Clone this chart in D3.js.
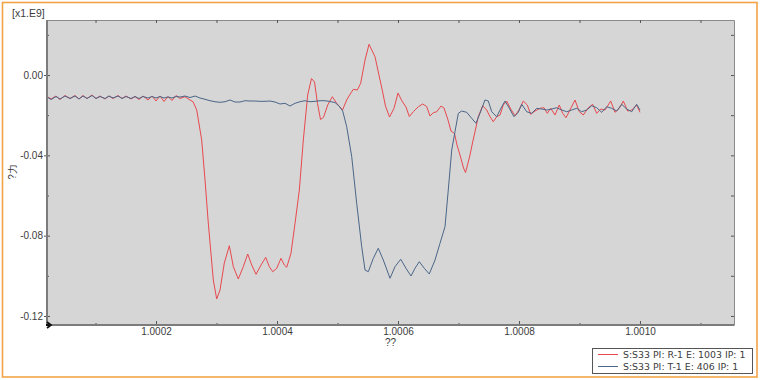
<!DOCTYPE html>
<html><head><meta charset="utf-8">
<script src="https://cdn.jsdelivr.net/npm/d3@7"></script>
<style>html,body{margin:0;padding:0;background:#fff;}svg{display:block;}</style>
</head><body>
<script>
// ---- data (values in x1.E9) ----
const redX = [1.0000198,1.0000265,1.0000347,1.0000413,1.0000496,1.0000579,1.0000661,1.0000727,1.0000793,1.0000860,
1.0000942,1.0001008,1.0001074,1.0001157,1.0001223,1.0001289,1.0001372,1.0001438,1.0001504,1.0001587,
1.0001653,1.0001719,1.0001785,1.0001868,1.0001934,1.0002000,1.0002066,1.0002132,1.0002198,1.0002264,
1.0002331,1.0002397,1.0002479,1.0002562,1.0002612,1.0002673,1.0002755,1.0002810,1.0002864,1.0002947,
1.0003003,1.0003058,1.0003129,1.0003212,1.0003278,1.0003360,1.0003443,1.0003516,1.0003582,1.0003653,
1.0003736,1.0003813,1.0003873,1.0003929,1.0003995,1.0004066,1.0004121,1.0004160,1.0004231,1.0004298,
1.0004369,1.0004435,1.0004507,1.0004570,1.0004620,1.0004669,1.0004719,1.0004769,1.0004838,1.0004914,
1.0004987,1.0005083,1.0005152,1.0005190,1.0005261,1.0005327,1.0005383,1.0005455,1.0005521,1.0005620,
1.0005703,1.0005736,1.0005793,1.0005860,1.0005934,1.0006000,1.0006066,1.0006132,1.0006187,1.0006253,
1.0006336,1.0006408,1.0006474,1.0006529,1.0006583,1.0006640,1.0006711,1.0006760,1.0006822,1.0006876,
1.0006934,1.0006975,1.0007025,1.0007083,1.0007116,1.0007157,1.0007190,1.0007231,1.0007273,1.0007327,
1.0007400,1.0007466,1.0007521,1.0007575,1.0007631,1.0007686,1.0007741,1.0007797,1.0007863,1.0007934,
1.0008000,1.0008071,1.0008137,1.0008193,1.0008265,1.0008347,1.0008413,1.0008468,1.0008524,1.0008595,
1.0008666,1.0008722,1.0008777,1.0008843,1.0008926,1.0008997,1.0009063,1.0009146,1.0009218,1.0009284,
1.0009351,1.0009422,1.0009516,1.0009587,1.0009658,1.0009724,1.0009797,1.0009863,1.0009945,1.0010000];
const redY = [-0.01071,-0.01195,-0.01046,-0.01220,-0.01021,-0.01170,-0.01021,-0.01195,-0.01021,-0.01170,
-0.00996,-0.01170,-0.01046,-0.01195,-0.01046,-0.01170,-0.01021,-0.01170,-0.01046,-0.01195,
-0.01071,-0.01220,-0.01046,-0.01245,-0.01046,-0.01295,-0.01046,-0.01320,-0.01071,-0.01270,
-0.01021,-0.01170,-0.01081,-0.01245,-0.01330,-0.01743,-0.03237,-0.05229,-0.07370,-0.10209,
-0.11155,-0.10707,-0.09362,-0.08501,-0.09547,-0.10159,-0.09547,-0.08914,-0.09462,-0.09925,
-0.09462,-0.09079,-0.09547,-0.09796,-0.09626,-0.09128,-0.09462,-0.09577,-0.08879,-0.07385,
-0.05727,-0.03237,-0.00996,-0.00174,-0.00349,-0.01409,-0.02216,-0.02107,-0.01494,-0.01081,
-0.01409,-0.01743,-0.01245,-0.01046,-0.00712,-0.00747,-0.00413,0.00747,0.01529,0.00911,
-0.00249,-0.00697,-0.01544,-0.02092,-0.01658,-0.00896,-0.01295,-0.01594,-0.02067,-0.01828,
-0.01579,-0.01444,-0.01569,-0.02042,-0.01877,-0.01828,-0.01544,-0.01643,-0.02191,-0.02789,
-0.02913,-0.03486,-0.03984,-0.04631,-0.04856,-0.04382,-0.03984,-0.03386,-0.02824,-0.02077,
-0.01529,-0.01743,-0.02077,-0.02326,-0.02077,-0.01992,-0.01494,-0.01295,-0.01693,-0.02027,
-0.01743,-0.01295,-0.01494,-0.01957,-0.01793,-0.01658,-0.01628,-0.01907,-0.01658,-0.01992,
-0.01494,-0.01907,-0.02126,-0.01743,-0.01245,-0.01828,-0.01992,-0.01628,-0.01459,-0.01907,
-0.01693,-0.01743,-0.01295,-0.01858,-0.01658,-0.01295,-0.01793,-0.01743,-0.01494,-0.01858];

const blueX = [1.0000198,1.0000265,1.0000347,1.0000413,1.0000496,1.0000579,1.0000661,1.0000727,1.0000793,1.0000860,
1.0000942,1.0001008,1.0001074,1.0001157,1.0001223,1.0001289,1.0001372,1.0001438,1.0001504,1.0001587,
1.0001653,1.0001719,1.0001785,1.0001868,1.0001934,1.0002000,1.0002066,1.0002132,1.0002198,1.0002264,
1.0002331,1.0002397,1.0002479,1.0002562,1.0002645,1.0002727,1.0002810,1.0002893,1.0002975,1.0003058,
1.0003141,1.0003223,1.0003306,1.0003388,1.0003471,1.0003554,1.0003636,1.0003719,1.0003802,1.0003884,
1.0003967,1.0004050,1.0004132,1.0004215,1.0004298,1.0004380,1.0004463,1.0004545,1.0004628,1.0004711,
1.0004793,1.0004876,1.0004959,1.0005025,1.0005086,1.0005152,1.0005235,1.0005317,1.0005400,1.0005455,
1.0005509,1.0005592,1.0005674,1.0005757,1.0005868,1.0005950,1.0006045,1.0006132,1.0006215,1.0006281,
1.0006352,1.0006435,1.0006517,1.0006612,1.0006694,1.0006777,1.0006831,1.0006888,1.0006942,1.0006997,
1.0007053,1.0007136,1.0007218,1.0007289,1.0007355,1.0007438,1.0007493,1.0007549,1.0007631,1.0007714,
1.0007769,1.0007840,1.0007917,1.0007988,1.0008045,1.0008127,1.0008210,1.0008293,1.0008375,1.0008458,
1.0008541,1.0008623,1.0008706,1.0008788,1.0008871,1.0008954,1.0009036,1.0009119,1.0009202,1.0009284,
1.0009367,1.0009450,1.0009532,1.0009615,1.0009698,1.0009780,1.0009863,1.0009945,1.0010000];
const blueY = [-0.01096,-0.01220,-0.01071,-0.01195,-0.01046,-0.01170,-0.01046,-0.01195,-0.01046,-0.01170,
-0.01021,-0.01170,-0.01071,-0.01170,-0.01046,-0.01145,-0.01046,-0.01170,-0.01071,-0.01170,
-0.01071,-0.01170,-0.01071,-0.01145,-0.01071,-0.01145,-0.01071,-0.01145,-0.01096,-0.01145,
-0.01071,-0.01096,-0.01046,-0.01121,-0.01046,-0.01145,-0.01210,-0.01280,-0.01330,-0.01360,
-0.01330,-0.01245,-0.01345,-0.01345,-0.01280,-0.01295,-0.01295,-0.01310,-0.01310,-0.01295,
-0.01345,-0.01444,-0.01409,-0.01544,-0.01409,-0.01330,-0.01280,-0.01330,-0.01310,-0.01280,
-0.01280,-0.01320,-0.01370,-0.01544,-0.01793,-0.02575,-0.04069,-0.06389,-0.08551,-0.09711,
-0.09796,-0.09128,-0.08630,-0.09213,-0.10124,-0.09547,-0.09178,-0.09626,-0.10010,-0.09626,
-0.09298,-0.09626,-0.09910,-0.09213,-0.08381,-0.07555,-0.05727,-0.03735,-0.02824,-0.01907,
-0.01793,-0.01858,-0.02156,-0.02405,-0.01907,-0.01245,-0.01295,-0.01828,-0.02077,-0.01579,
-0.01295,-0.01658,-0.02077,-0.01858,-0.01459,-0.01828,-0.01907,-0.01658,-0.01693,-0.01743,
-0.01693,-0.01628,-0.01743,-0.01828,-0.01743,-0.01658,-0.01828,-0.01743,-0.01529,-0.01628,
-0.01858,-0.01579,-0.01658,-0.01793,-0.01459,-0.01693,-0.01828,-0.01459,-0.01743];

const xMajorTicks = [1.0002, 1.0004, 1.0006, 1.0008, 1.0010];
const xMinorTicks = [1.0001, 1.0003, 1.0005, 1.0007, 1.0009, 1.0011];
const yMajorTicks = [0.00, -0.04, -0.08, -0.12];
const yMinorTicks = [0.02, -0.02, -0.06, -0.10];
const seriesNames = ["S:S33 PI: R-1 E: 1003 IP: 1", "S:S33 PI: T-1 E: 406 IP: 1"];
const seriesColors = ["#e8484e", "#4a6688"];
const xTitle = "??", yTitle = "?力", unitLabel = "[x1.E9]";

// ---- layout ----
const W = 760, H = 380;
const L = 47, R = 734, T = 20, B = 325;
const font = "Liberation Sans, Arial, sans-serif";
const legendFont = "DejaVu Sans, Verdana, sans-serif";
const txt = "#3c3c3c";

const svg = d3.select("body").append("svg").attr("width", W).attr("height", H);
svg.append("rect").attr("width", W).attr("height", H).attr("fill", "#fff");
svg.append("rect").attr("x", 2.5).attr("y", 2.5).attr("width", 754.5).attr("height", 374.5)
  .attr("fill", "none").attr("stroke", "#f2a445").attr("stroke-width", 1.6);

const x = d3.scaleLinear().domain([1.0000198, 1.0011554]).range([L, R]);
const y = d3.scaleLinear().domain([0.0274, -0.1245]).range([T, B]);

svg.append("rect").attr("x", L).attr("y", T).attr("width", R - L).attr("height", B - T).attr("fill", "#d6d6d6");

// frame top/right
svg.append("path").attr("d", `M${L},${T+0.5}H${R+0.5}V${B}`).attr("fill", "none").attr("stroke", "#8a8a8a").attr("stroke-width", 1);

// lines
const line = d3.line().x(d => x(d[0])).y(d => y(d[1]));
const redData = redX.map((v, i) => [v, redY[i]]);
const blueData = blueX.map((v, i) => [v, blueY[i]]);
svg.append("clipPath").attr("id", "clp").append("rect").attr("x", L).attr("y", T).attr("width", R - L).attr("height", B - T);
const g = svg.append("g").attr("clip-path", "url(#clp)");
g.append("path").datum(redData).attr("d", line).attr("fill", "none").attr("stroke", seriesColors[0]).attr("stroke-width", 1);
g.append("path").datum(blueData).attr("d", line).attr("fill", "none").attr("stroke", seriesColors[1]).attr("stroke-width", 1);

function styleAxis(sel) {
  sel.select(".domain").remove();
  sel.selectAll(".tick line").attr("stroke", "#555");
  sel.selectAll(".tick text").attr("fill", txt).style("font-family", font).style("font-size", "10px");
}

// left axis major ticks (outside part) with labels
const yl = svg.append("g").attr("transform", `translate(${L},0)`)
  .call(d3.axisLeft(y).tickValues(yMajorTicks).tickSize(3).tickPadding(1).tickFormat(d => d.toFixed(2)));
styleAxis(yl);
const yli = svg.append("g").attr("transform", `translate(${L},0)`)
  .call(d3.axisRight(y).tickValues(yMajorTicks).tickSize(3).tickFormat(""));
styleAxis(yli);
const ylm = svg.append("g").attr("transform", `translate(${L},0)`)
  .call(d3.axisRight(y).tickValues(yMinorTicks).tickSize(2).tickFormat(""));
styleAxis(ylm);
// right axis inward ticks
const yr = svg.append("g").attr("transform", `translate(${R},0)`)
  .call(d3.axisLeft(y).tickValues(yMajorTicks.concat(yMinorTicks)).tickSize(3).tickFormat(""));
styleAxis(yr);

// bottom axis
const xb = svg.append("g").attr("transform", `translate(0,${B})`)
  .call(d3.axisTop(x).tickValues(xMajorTicks).tickSize(4).tickFormat(""));
styleAxis(xb);
const xbm = svg.append("g").attr("transform", `translate(0,${B})`)
  .call(d3.axisTop(x).tickValues(xMinorTicks).tickSize(2).tickFormat(""));
styleAxis(xbm);
const xbl = svg.append("g").attr("transform", `translate(0,${B})`)
  .call(d3.axisBottom(x).tickValues(xMajorTicks).tickSize(0).tickPadding(3).tickFormat(d => d.toFixed(4)));
styleAxis(xbl);
// top axis inward ticks
const xt = svg.append("g").attr("transform", `translate(0,${T})`)
  .call(d3.axisBottom(x).tickValues(xMajorTicks.concat(xMinorTicks)).tickSize(3).tickFormat(""));
styleAxis(xt);

// axis lines left & bottom
svg.append("line").attr("x1", L).attr("x2", L).attr("y1", T).attr("y2", B + 1).attr("stroke", "#7c7c7c").attr("stroke-width", 2);
svg.append("line").attr("x1", L).attr("x2", R + 0.5).attr("y1", B).attr("y2", B).attr("stroke", "#7c7c7c").attr("stroke-width", 2);

// origin marker
svg.append("path").attr("d", `M${L},${B-3}L${L+4},${B}L${L},${B+3}M${L-1},${B}H${L+4}`)
  .attr("fill", "none").attr("stroke", "#111").attr("stroke-width", 1.8);

// titles
svg.append("text").attr("x", 12).attr("y", 17).text(unitLabel)
  .attr("fill", txt).style("font-family", font).style("font-size", "10.5px");
svg.append("text").attr("x", (L + R) / 2).attr("y", 346).attr("text-anchor", "middle").text(xTitle)
  .attr("fill", txt).style("font-family", font).style("font-size", "10px");
svg.append("text").attr("transform", "translate(16,172) rotate(-90)").attr("text-anchor", "middle").text(yTitle)
  .attr("fill", txt).style("font-family", font).style("font-size", "10px");

// legend
const lg = svg.append("g");
lg.append("rect").attr("x", 592.5).attr("y", 348.5).attr("width", 160).attr("height", 25)
  .attr("fill", "#fff").attr("stroke", "#555").attr("stroke-width", 1);
seriesNames.forEach((n, i) => {
  const yy = 354.5 + i * 12;
  lg.append("line").attr("x1", 598).attr("x2", 618).attr("y1", yy).attr("y2", yy).attr("stroke", seriesColors[i]).attr("stroke-width", 1);
  lg.append("text").attr("x", 623).attr("y", yy + 3.5).text(n)
    .attr("fill", txt).style("font-family", legendFont).style("font-size", "9.4px");
});
</script>
</body></html>
